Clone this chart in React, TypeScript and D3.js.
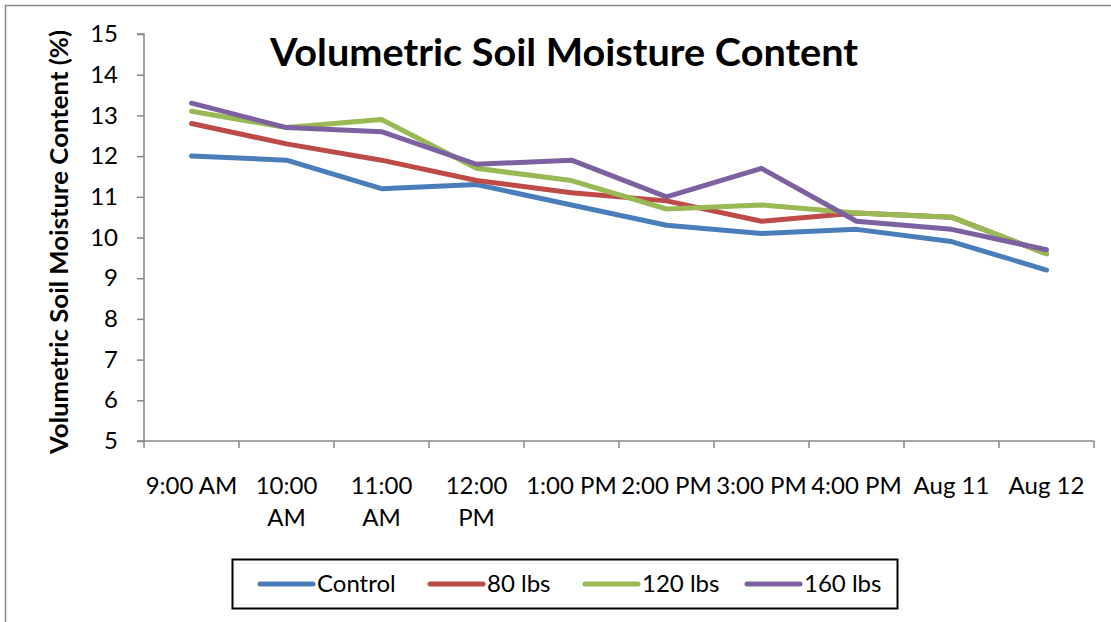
import * as d3 from "d3";
import { useEffect, useRef } from "react";

const categories = [
  "9:00 AM",
  "10:00 AM",
  "11:00 AM",
  "12:00 PM",
  "1:00 PM",
  "2:00 PM",
  "3:00 PM",
  "4:00 PM",
  "Aug 11",
  "Aug 12",
];
// how each tick label breaks into lines
const tickLines = [
  ["9:00 AM"],
  ["10:00", "AM"],
  ["11:00", "AM"],
  ["12:00", "PM"],
  ["1:00 PM"],
  ["2:00 PM"],
  ["3:00 PM"],
  ["4:00 PM"],
  ["Aug 11"],
  ["Aug 12"],
];
const seriesNames = ["Control", "80 lbs", "120 lbs", "160 lbs"];
const control = [12.0, 11.9, 11.2, 11.3, 10.8, 10.3, 10.1, 10.2, 9.9, 9.2];
const lbs80 = [12.8, 12.3, 11.9, 11.4, 11.1, 10.9, 10.4, 10.6, 10.5, 9.6];
const lbs120 = [13.1, 12.7, 12.9, 11.7, 11.4, 10.7, 10.8, 10.6, 10.5, 9.6];
const lbs160 = [13.3, 12.7, 12.6, 11.8, 11.9, 11.0, 11.7, 10.4, 10.2, 9.7];
const yTicks = [5, 6, 7, 8, 9, 10, 11, 12, 13, 14, 15];

const colors = ["#4A7EBB", "#BE4B48", "#98B954", "#7D60A0"];
const FONT = "Lato, 'Open Sans', sans-serif";

export default function App() {
  const ref = useRef<SVGSVGElement | null>(null);

  useEffect(() => {
    const el = ref.current;
    if (!el) return;
    const svg = d3.select(el);
    svg.selectAll("*").remove();

    const W = 1111;
    const H = 622;
    const left = 144;
    const right = 1094;
    const top = 34;
    const bottom = 441;

    svg.attr("width", W).attr("height", H);

    // outer chart border (only top and left visible)
    svg
      .append("path")
      .attr("d", `M5.5,${H} V5.5 H${W}`)
      .attr("fill", "none")
      .attr("stroke", "#878787")
      .attr("stroke-width", 1.5);

    const x = d3.scaleBand().domain(categories).range([left, right]);
    const y = d3.scaleLinear().domain([5, 15]).range([bottom, top]);
    const axisColor = "#878787";

    // y axis
    const ya = svg
      .append("g")
      .attr("transform", `translate(${left},0)`)
      .call(d3.axisLeft(y).tickValues(yTicks).tickSize(7).tickPadding(19));
    ya.select(".domain").attr("stroke", axisColor).attr("stroke-width", 1.5)
      .attr("d", `M-7,${top}H0V${bottom}`);
    ya.selectAll(".tick line").attr("stroke", axisColor).attr("stroke-width", 1.5);
    ya.selectAll(".tick text")
      .attr("fill", "#000")
      .attr("font-size", 24)
      .attr("font-family", FONT);

    // x axis
    const xa = svg
      .append("g")
      .attr("transform", `translate(0,${bottom})`)
      .call(d3.axisBottom(x).tickSize(0).tickFormat(() => ""));
    xa.select(".domain").attr("stroke", axisColor).attr("stroke-width", 1.5)
      .attr("d", `M${left - 7},0H${right}`);
    const bounds = categories.map((c) => x(c) ?? 0).concat([right]);
    xa.selectAll("line.sep")
      .data(bounds)
      .join("line")
      .attr("class", "sep")
      .attr("x1", (d) => d)
      .attr("x2", (d) => d)
      .attr("y1", 0)
      .attr("y2", 7)
      .attr("stroke", axisColor)
      .attr("stroke-width", 1.5);

    const labels = svg.append("g");
    categories.forEach((c, i) => {
      const cx = (x(c) ?? 0) + x.bandwidth() / 2;
      const t = labels
        .append("text")
        .attr("x", cx)
        .attr("y", 494)
        .attr("text-anchor", "middle")
        .attr("font-size", 24)
        .attr("font-family", FONT)
        .attr("fill", "#000");
      tickLines[i].forEach((ln, j) => {
        t.append("tspan").attr("x", cx).attr("dy", j === 0 ? 0 : 32).text(ln);
      });
    });

    // lines
    const allSeries = [control, lbs80, lbs120, lbs160];
    const line = d3
      .line<number>()
      .x((_, i) => (x(categories[i]) ?? 0) + x.bandwidth() / 2)
      .y((d) => y(d));
    allSeries.forEach((s, i) => {
      svg
        .append("path")
        .datum(s)
        .attr("d", line)
        .attr("fill", "none")
        .attr("stroke", colors[i])
        .attr("stroke-width", 5)
        .attr("stroke-linejoin", "round")
        .attr("stroke-linecap", "round");
    });

    // title
    svg
      .append("text")
      .attr("x", 270)
      .attr("y", 66)
      .attr("font-size", 38)
      .attr("font-weight", "bold")
      .attr("font-family", FONT)
      .attr("textLength", 588)
      .attr("lengthAdjust", "spacingAndGlyphs")
      .text("Volumetric Soil Moisture Content");

    // y label
    svg
      .append("text")
      .attr("transform", `translate(68,242) rotate(-90)`)
      .attr("text-anchor", "middle")
      .attr("font-size", 24)
      .attr("font-weight", "bold")
      .attr("font-family", FONT)
      .attr("textLength", 424)
      .attr("lengthAdjust", "spacingAndGlyphs")
      .text("Volumetric Soil Moisture Content (%)");

    // legend
    const lg = svg.append("g");
    lg.append("rect")
      .attr("x", 232.5)
      .attr("y", 559.5)
      .attr("width", 665)
      .attr("height", 49)
      .attr("fill", "none")
      .attr("stroke", "#000")
      .attr("stroke-width", 2);
    const legendX = [258, 428, 583, 745];
    seriesNames.forEach((n, i) => {
      lg.append("line")
        .attr("x1", legendX[i] + 2)
        .attr("x2", legendX[i] + 55)
        .attr("y1", 584)
        .attr("y2", 584)
        .attr("stroke", colors[i])
        .attr("stroke-width", 5)
        .attr("stroke-linecap", "round");
      lg.append("text")
        .attr("x", legendX[i] + 59)
        .attr("y", 592)
        .attr("font-size", 24)
        .attr("font-family", FONT)
        .text(n);
    });
  }, []);

  return (
    <svg
      ref={ref}
      style={{ position: "absolute", left: 0, top: 0, background: "#fff" }}
    />
  );
}
